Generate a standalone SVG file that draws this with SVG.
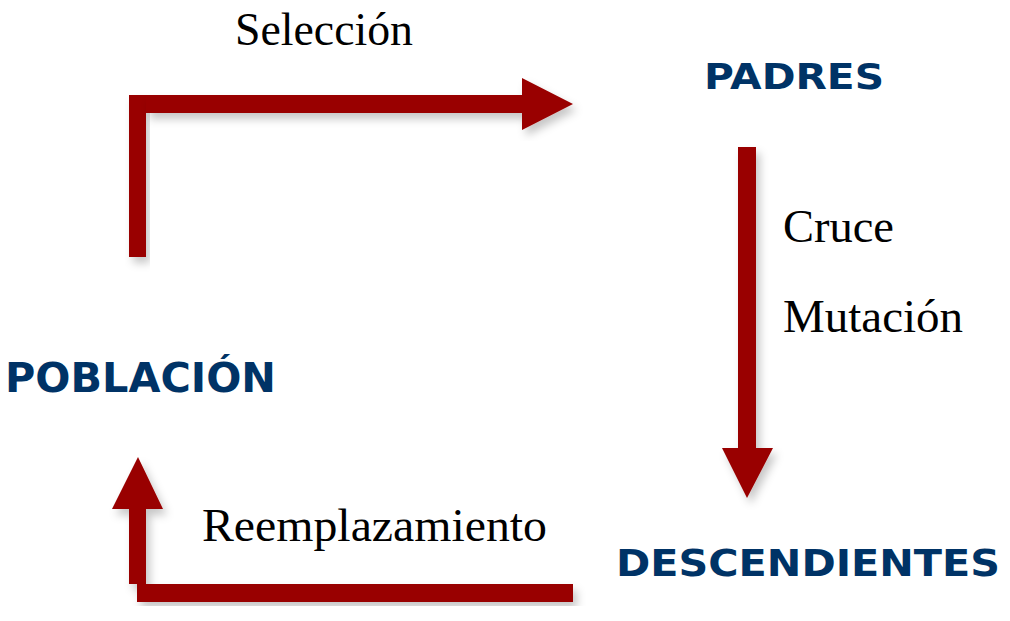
<svg xmlns="http://www.w3.org/2000/svg" width="1010" height="621" viewBox="0 0 1010 621">
<defs>
<filter id="sh" x="-20%" y="-20%" width="140%" height="140%">
<feDropShadow dx="4" dy="6" stdDeviation="4" flood-color="#000" flood-opacity="0.22"/>
</filter>
<style>
.arr{fill:#990000;filter:url(#sh)}
.lbl{font-family:"Liberation Serif","Times New Roman",serif;font-size:46px;fill:#000}
.node{font-family:"DejaVu Sans",Verdana,sans-serif;font-weight:bold;fill:#003366}
</style>
</defs>
<rect width="1010" height="621" fill="#fff"/>
<g id="connectors">
<g id="seleccion-arrow">
<rect class="arr" x="129" y="95" width="17" height="162"/>
<path class="arr" d="M146 95 H522 V78 L573 104 L522 130 V113 H146 Z"/>
</g>
<path id="cruce-arrow" class="arr" d="M738 147 H756 V448 H773 L747 498 L722 448 H738 Z"/>
<g id="reemplazo-arrow">
<path class="arr" d="M129 584 V509 H112 L138 457 L163 509 H146 V584 Z"/>
<rect class="arr" x="137" y="584" width="436" height="18"/>
</g>
<text class="lbl" x="235" y="45" textLength="178" lengthAdjust="spacingAndGlyphs">Selección</text>
<text class="lbl" x="783" y="242" textLength="111" lengthAdjust="spacingAndGlyphs">Cruce</text>
<text class="lbl" x="783" y="332" textLength="180" lengthAdjust="spacingAndGlyphs">Mutación</text>
<text class="lbl" x="202" y="541" textLength="345" lengthAdjust="spacingAndGlyphs">Reemplazamiento</text>
</g>
<g id="poblacion"><text class="node" x="5" y="392" font-size="40" textLength="271" lengthAdjust="spacingAndGlyphs">POBLACIÓN</text></g>
<g id="padres"><text class="node" x="704" y="89" font-size="36" textLength="180" lengthAdjust="spacingAndGlyphs">PADRES</text></g>
<g id="descendientes"><text class="node" x="616" y="576" font-size="37" textLength="384" lengthAdjust="spacingAndGlyphs">DESCENDIENTES</text></g>
</svg>
